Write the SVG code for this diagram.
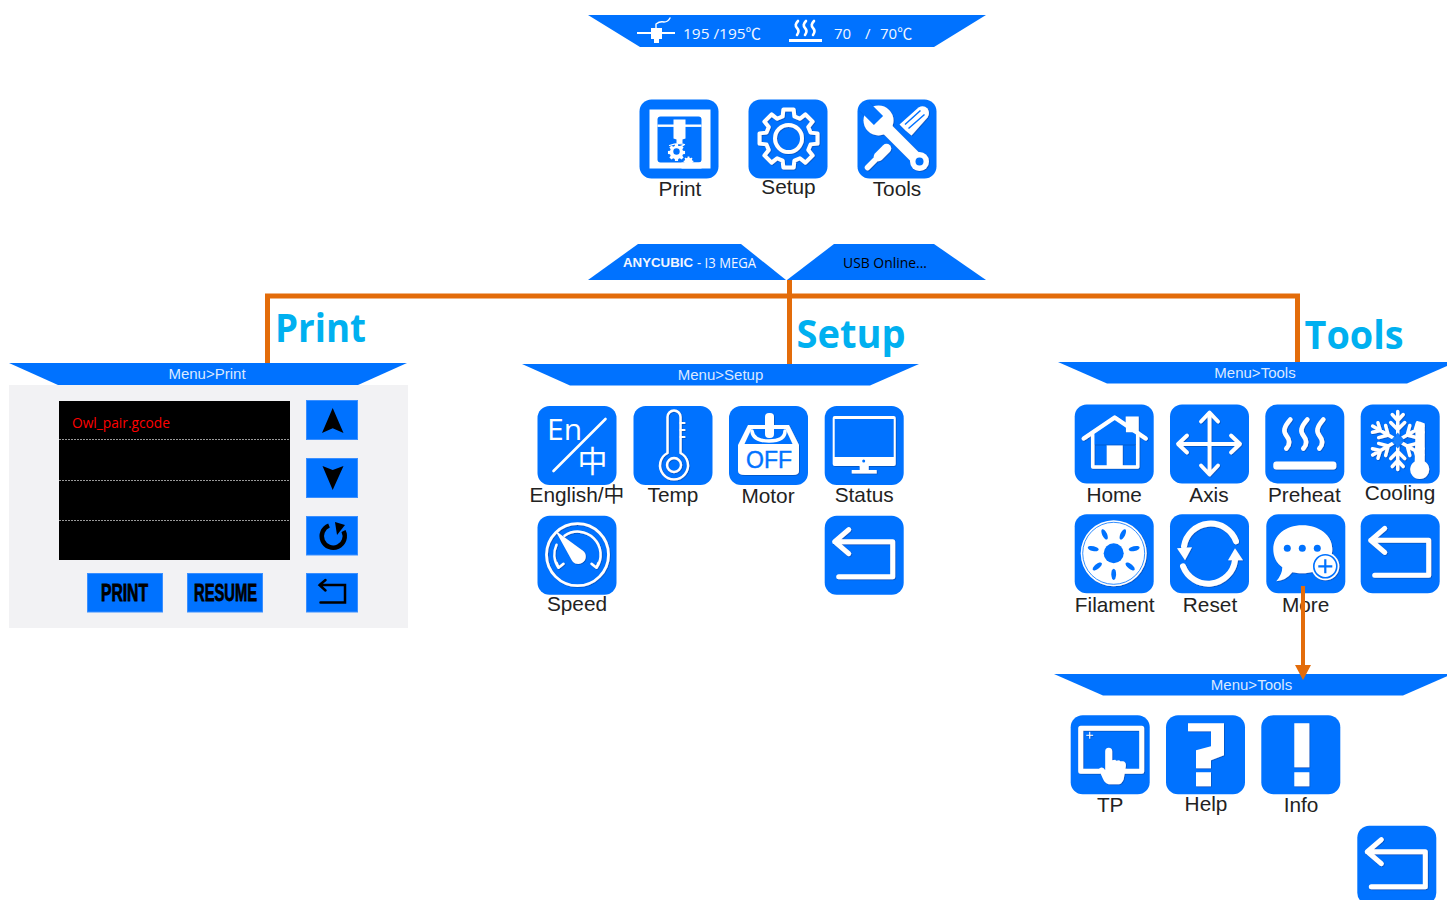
<svg xmlns="http://www.w3.org/2000/svg" width="1447" height="900" viewBox="0 0 1447 900">
<style>
.tile{fill:#0072ff}
.lb{font:20.800px "Liberation Sans",Arial,sans-serif;fill:#222;text-anchor:middle}
.mn{font:15px "Liberation Sans",Arial,sans-serif;fill:#dbe9ff;text-anchor:middle}
.hd{font:700 39px "Open Sans",sans-serif;fill:#00b0f0}
.ban{fill:#0072ff}
.w{fill:#fff}
.s{fill:none;stroke:#fff;stroke-linecap:round;stroke-linejoin:round}
.b{fill:#0072ff}
.bl{fill:none;stroke:#0072ff}
.btn{fill:#0072ff;stroke:#3b8fff;stroke-width:1}
.k{fill:none;stroke:#000}
.top{font:15px "Open Sans","Noto Sans CJK SC",sans-serif;fill:#f2f6ff}
.conn{fill:none;stroke:#e36c0a;stroke-width:5}
</style>
<defs>
<filter id="sh" x="-10%" y="-10%" width="120%" height="120%"><feDropShadow dx="0.7" dy="0.7" stdDeviation="0.5" flood-color="#0047a8" flood-opacity="0.8"/></filter>
<rect id="tile" class="tile" width="79" height="79" rx="12"/>
<path id="gear" d="M-5.400 -30.500L5.400 -30.500L6.200 -23.200L12 -20.800L17.800 -25.400L25.400 -17.800L20.800 -12L23.200 -6.200L30.500 -5.400L30.500 5.400L23.200 6.200L20.800 12L25.400 17.800L17.800 25.400L12 20.800L6.200 23.200L5.400 30.500L-5.400 30.500L-6.200 23.200L-12 20.800L-17.800 25.400L-25.400 17.800L-20.800 12L-23.200 6.200L-30.500 5.400L-30.500 -5.400L-23.200 -6.200L-20.800 -12L-25.400 -17.800L-17.800 -25.400L-12 -20.800L-6.200 -23.200Z"/>
<g id="back"><use href="#tile"/><path class="s" filter="url(#sh)" stroke-width="5" stroke-linejoin="miter" d="M24 14L10 26L24 38M10 26H68V61H14"/></g>
<g id="arm"><path d="M0 0V-29M0 -11L-7 -18M0 -11L7 -18M0 -20L-5.500 -26M0 -20L5.500 -26" fill="none" stroke="#fff" stroke-width="3.400" stroke-linecap="round"/></g>
<ellipse id="petal" class="b" cx="0" cy="-21" rx="2.400" ry="5.600"/>
</defs>

<g id="banner-status">
<polygon class="ban" points="588,15 986,15 934,47 640,47"/>
<path class="w" d="M651 28h11v11h-3v4h-5v-4h-3z"/>
<path d="M637 33H675" stroke="#fff" stroke-width="2"/>
<path d="M656 28V24Q660 21 664 22Q668 22 670 18" class="s" stroke-width="1.400"/>
<text class="top" x="683" y="39" textLength="78" lengthAdjust="spacingAndGlyphs">195 /195℃</text>
<path class="s" stroke-width="2.600" d="M798 21Q794 25 797 28T797 35M806 21Q802 25 805 28T805 35M814 21Q810 25 813 28T813 35"/>
<rect class="w" x="789" y="39" width="33" height="3"/>
<text class="top" x="834" y="39">70</text>
<text class="top" x="865" y="39">/</text>
<text class="top" x="880" y="39">70℃</text>
</g>

<g id="node-print" transform="translate(639.500 99.500)">
<use href="#tile"/>
<rect class="w" x="10" y="10" width="61" height="59"/>
<rect class="b" x="18" y="17" width="44" height="46" rx="3"/>
<rect class="w" x="18" y="25" width="44" height="2.400"/>
<path class="w" d="M34 20h12v19l-3 1v4h-6v-4l-3-1z"/>
<path class="s" stroke-width="1.200" d="M30 46Q38 43 45 45Q42 48 36 47"/>
<use href="#gear" class="w" transform="translate(37 53) scale(.28)"/>
<circle class="b" cx="37" cy="52" r="3.200"/>
<rect class="w" x="42" y="63" width="20" height="6"/>
<use href="#gear" class="w" transform="translate(49 62) scale(.16)"/>
<text class="lb" x="40.500" y="96.800">Print</text>
</g>
<g id="node-setup" transform="translate(748.500 99.500)">
<use href="#tile"/>
<g filter="url(#sh)"><use href="#gear" transform="translate(40 39) scale(.95)" fill="none" stroke="#fff" stroke-width="4.200" stroke-linejoin="round"/>
<circle cx="40" cy="39" r="13.500" fill="none" stroke="#fff" stroke-width="4"/></g>
<text class="lb" x="40" y="94.800">Setup</text>
</g>
<g id="node-tools" transform="translate(857.500 99.500)">
<use href="#tile"/>
<g filter="url(#sh)">
<path class="w" d="M48 31L42 25L61 8Q66 5 70 9Q73 14 70 18L54 36Z"/>
<path class="bl" stroke-width="1.500" d="M47.500 25L63 11M51 29L67 15"/>
<path class="s" stroke-width="5.500" d="M10 68L20 58"/>
<path class="s" stroke-width="9.500" d="M21 57L29 49"/>
<path class="s" stroke-width="12" d="M20 20L62 62"/>
<circle class="w" cx="21" cy="21" r="15"/>
<path class="bl" stroke-width="13" d="M21 21L6 6"/>
<circle class="w" cx="62" cy="62" r="9.500"/>
<circle class="b" cx="62" cy="62" r="4"/>
</g>
<text class="lb" x="39.500" y="96.800">Tools</text>
</g>

<g id="banner-brand">
<polygon class="ban" points="588,280 638,244 741,244 786,280"/>
<text x="623" y="267" font-family="'Liberation Sans',sans-serif" font-weight="700" font-size="13.500" fill="#f2f6ff" textLength="70" lengthAdjust="spacingAndGlyphs">ANYCUBIC</text>
<text x="697" y="268" font-family="'Open Sans',sans-serif" font-size="14" fill="#f2f6ff" textLength="59" lengthAdjust="spacingAndGlyphs">- I3 MEGA</text>
</g>
<g id="banner-usb">
<polygon class="ban" points="787,280 834,244 934,244 986,280"/>
<text x="843" y="268" font-family="'Open Sans',sans-serif" font-size="14" fill="#000" textLength="84" lengthAdjust="spacingAndGlyphs">USB Online...</text>
</g>

<g id="connectors">
<path class="conn" d="M267.500 363V296H1297.500V362"/>
<path class="conn" d="M789.500 280V364"/>
<text class="hd" x="275" y="342" textLength="91" lengthAdjust="spacingAndGlyphs">Print</text>
<text class="hd" x="796.500" y="348" textLength="109" lengthAdjust="spacingAndGlyphs">Setup</text>
<text class="hd" x="1304.500" y="349" textLength="99" lengthAdjust="spacingAndGlyphs">Tools</text>
</g>

<g id="screen-print">
<rect x="9" y="385" width="399" height="243" fill="#f2f2f4"/>
<polygon class="ban" points="9,363 407,363 358,385 58,385"/>
<text class="mn" x="207" y="379">Menu&gt;Print</text>
<rect x="59" y="401" width="231" height="159" fill="#000"/>
<path d="M59 439.500H290M59 480.500H290M59 520.500H290" stroke="#999" stroke-width="1" stroke-dasharray="2 1"/>
<text x="72" y="428" font-family="'Open Sans',sans-serif" font-size="14" fill="#f00" textLength="98" lengthAdjust="spacingAndGlyphs">Owl_pair.gcode</text>
<rect class="btn" x="306.500" y="400.500" width="51" height="39"/>
<polygon points="332.700,408 343.500,433 332.700,428.300 322,433"/>
<rect class="btn" x="306.500" y="458.500" width="51" height="39"/>
<polygon points="322.500,466 332.700,470 343.500,466 332.700,490"/>
<rect class="btn" x="306.500" y="516.500" width="51" height="38.500"/>
<path class="k" stroke-width="4.500" d="M329 525.500A11.500 11.500 0 1 0 343.500 531"/>
<polygon points="335,522 345,525 337,535"/>
<rect class="btn" x="306.500" y="573.500" width="51" height="38.500"/>
<path class="k" stroke-width="2.500" stroke-linecap="round" d="M325.500 580L319.500 585L325.500 590.500M319.500 585H345V602.500H320.500"/>
<rect class="btn" x="87.500" y="573.500" width="75" height="38.500"/>
<text x="101" y="601" font-family="'Liberation Sans',sans-serif" font-weight="700" font-size="23" stroke="#000" stroke-width=".8" textLength="47" lengthAdjust="spacingAndGlyphs">PRINT</text>
<rect class="btn" x="187.500" y="573.500" width="75" height="38.500"/>
<text x="194" y="601" font-family="'Liberation Sans',sans-serif" font-weight="700" font-size="23" stroke="#000" stroke-width=".8" textLength="63" lengthAdjust="spacingAndGlyphs">RESUME</text>
</g>

<g id="menu-setup">
<polygon class="ban" points="522,364 919,364 870,385.500 570,385.500"/>
<text class="mn" x="720.500" y="379.500">Menu&gt;Setup</text>
</g>
<g id="node-english" transform="translate(537.500 406)">
<use href="#tile"/>
<text x="9.500" y="33.500" font-family="'Open Sans',sans-serif" font-size="30" fill="#fff">En</text>
<path class="s" stroke-width="2.600" d="M68 13L16 65"/>
<text x="40" y="66" font-family="'Noto Sans CJK SC',sans-serif" font-size="30" fill="#fff">中</text>
<text x="39.500" y="95.700" font-family="'Liberation Sans','Noto Sans CJK SC',sans-serif" font-size="20.800" fill="#222" text-anchor="middle">English/中</text>
</g>
<g id="node-temp" transform="translate(633.500 406)">
<use href="#tile"/>
<g filter="url(#sh)"><path class="s" stroke-width="2.400" d="M34 47V11A6.500 6.500 0 0 1 47 11V47A14 14 0 1 1 34 47Z"/>
<circle class="s" cx="40.500" cy="59" r="7" stroke-width="2.400"/>
<path class="s" stroke-width="2" d="M47 17H51M47 24H51M47 31H51"/></g>
<text class="lb" x="39.500" y="95.700">Temp</text>
</g>
<g id="node-motor" transform="translate(729 406)">
<use href="#tile"/>
<g filter="url(#sh)">
<path class="w" d="M19 19H60L70 39V65Q70 69 64 69H16Q9 69 9 65V39Z"/>
<path class="b" d="M22.500 23H56.500L63.500 38H15.500Z"/>
<path class="s" stroke-width="3.500" d="M23 25Q24 35 40 35Q56 35 56 25"/>
<rect class="w" x="36" y="7" width="9" height="25" rx="4"/>
</g>
<text x="40" y="62" font-family="'Liberation Sans',sans-serif" font-size="23" stroke="#0072ff" stroke-width=".4" fill="#0072ff" text-anchor="middle">OFF</text>
<text class="lb" x="39" y="97">Motor</text>
</g>
<g id="node-status" transform="translate(824.700 406)">
<use href="#tile"/>
<g filter="url(#sh)">
<rect class="w" x="8" y="10" width="63" height="50" rx="2"/>
<rect class="b" x="10" y="13" width="59" height="38"/>
<circle class="b" cx="39" cy="55" r="1.500"/>
<rect class="w" x="35" y="60" width="9" height="4"/>
<rect class="w" x="27" y="64" width="25" height="3.500"/>
</g>
<text class="lb" x="39.500" y="95.700">Status</text>
</g>
<g id="node-speed" transform="translate(537.500 515.700)">
<use href="#tile"/>
<g filter="url(#sh)">
<circle class="s" cx="40" cy="39" r="31" stroke-width="2.800"/>
<path class="s" stroke-width="2.500" d="M21 52A23 23 0 0 1 19 29M27 20A23 23 0 0 1 59 52M21 52L26 48M21 52L19 47M59 52L54 48M59 52L61 47"/>
<path class="w" d="M18 15L44 34A7.500 7.500 0 1 1 34 44Z"/>
</g>
<text class="lb" x="39.500" y="95">Speed</text>
</g>
<g id="node-setup-back" transform="translate(824.700 515.700)"><use href="#back"/></g>

<g id="menu-tools">
<polygon class="ban" points="1058,362 1456,362 1407,383.500 1107,383.500"/>
<text class="mn" x="1255" y="378">Menu&gt;Tools</text>
</g>
<g id="node-home" transform="translate(1074.700 404.500)">
<use href="#tile"/>
<g filter="url(#sh)">
<rect class="w" x="51" y="12" width="13" height="16"/>
<path class="b" d="M40 14L51 22V28H64V40H17V30Z"/>
<path class="s" stroke-width="4.400" d="M9 34L40 13L71 34"/>
<path class="s" stroke-width="3.500" stroke-linecap="butt" stroke-linejoin="miter" d="M18 30V62.500H63V28"/>
<rect class="w" x="32" y="41" width="16" height="22"/>
</g>
<text class="lb" x="39.500" y="97.200">Home</text>
</g>
<g id="node-axis" transform="translate(1170 404.500)">
<use href="#tile"/>
<path class="s" filter="url(#sh)" stroke-width="3.800" d="M39.500 9V69M9 39.500H69M31 17L39.500 8L48 17M31 61L39.500 70L48 61M17 31L8 39.500L17 48M61 31L70 39.500L61 48"/>
<text class="lb" x="39" y="97.200">Axis</text>
</g>
<g id="node-preheat" transform="translate(1265.300 404.500)">
<use href="#tile"/>
<g filter="url(#sh)">
<path class="s" stroke-width="4.600" d="M25 15C18 23 18 27 21 31C25 36 25 40 21 44M42 15C35 23 35 27 38 31C42 36 42 40 38 44M58 15C51 23 51 27 54 31C58 36 58 40 54 44"/>
<rect class="w" x="8" y="57" width="63" height="8" rx="3"/>
</g>
<text class="lb" x="39" y="97.200">Preheat</text>
</g>
<g id="node-cooling" transform="translate(1360.700 404.500)">
<use href="#tile"/>
<g filter="url(#sh)">
<use href="#arm" transform="translate(37 36)"/>
<use href="#arm" transform="translate(37 36) rotate(60)"/>
<use href="#arm" transform="translate(37 36) rotate(120)"/>
<use href="#arm" transform="translate(37 36) rotate(180)"/>
<use href="#arm" transform="translate(37 36) rotate(240)"/>
<use href="#arm" transform="translate(37 36) rotate(300)"/>
<path class="b" d="M37 28L44 36L37 44L30 36Z" opacity=".9"/>
<path class="w" d="M55 19L59 17L64 19V57A9.500 9.500 0 1 1 54 57Z"/>
</g>
<text class="lb" x="39.300" y="95.500">Cooling</text>
</g>
<g id="node-filament" transform="translate(1074.700 514.300)">
<use href="#tile"/>
<g filter="url(#sh)"><circle class="w" cx="39" cy="39" r="33"/></g>
<circle class="bl" cx="39" cy="39" r="31" stroke-width=".8"/>
<circle class="b" cx="39" cy="39" r="10"/>
<use href="#petal" transform="translate(39 39) rotate(180)"/>
<use href="#petal" transform="translate(39 39) rotate(128.600)"/>
<use href="#petal" transform="translate(39 39) rotate(77.100)"/>
<use href="#petal" transform="translate(39 39) rotate(25.700)"/>
<use href="#petal" transform="translate(39 39) rotate(-25.700)"/>
<use href="#petal" transform="translate(39 39) rotate(-77.100)"/>
<use href="#petal" transform="translate(39 39) rotate(-128.600)"/>
<text class="lb" x="40" y="97.400">Filament</text>
</g>
<g id="node-reset" transform="translate(1170 514.300)">
<use href="#tile"/>
<g filter="url(#sh)">
<path class="s" stroke-width="6" stroke-linecap="butt" d="M14 32A27 27 0 0 1 66 27"/>
<path class="s" stroke-width="6" stroke-linecap="butt" d="M65 46A27 27 0 0 1 13 52"/>
<polygon class="w" points="7,34 22,33 15,46"/>
<polygon class="w" points="58,46 73,46 65,34"/>
</g>
<text class="lb" x="40" y="97.400">Reset</text>
</g>
<g id="node-more" transform="translate(1266.300 514.300)">
<use href="#tile"/>
<g filter="url(#sh)">
<path class="w" d="M36 11C53 11 66 21 66 35C66 49 53 59 36 59C32 59 29 58.500 26 58Q20 66 10 67Q16 60 16 53C10 49 7 42 7 35C7 21 19 11 36 11Z"/>
<circle cx="59" cy="52" r="14" fill="#fff"/>
</g>
<circle class="b" cx="21" cy="34" r="3.500"/><circle class="b" cx="36" cy="34" r="3.500"/><circle class="b" cx="51" cy="34" r="3.500"/>
<circle class="bl" cx="59" cy="52" r="11.500" stroke-width="1.600"/>
<path class="bl" stroke-width="2.200" d="M52 52H66M59 45V59"/>
<text class="lb" x="39.300" y="97.400">More</text>
</g>
<g id="node-tools-back" transform="translate(1360.700 514.300)"><use href="#back"/></g>

<g id="menu-tools-2">
<polygon class="ban" points="1054,674 1452,674 1403,695.500 1103,695.500"/>
<text class="mn" x="1251.500" y="690">Menu&gt;Tools</text>
</g>
<g id="node-tp" transform="translate(1070.700 715.300)">
<use href="#tile"/>
<g filter="url(#sh)">
<path class="s" stroke-width="5" d="M29 56H10V13H71V56H52"/>
<path class="s" stroke-width="1" d="M19 17V23M16 20H22"/>
<path class="w" d="M34.500 36a3.500 3.500 0 0 1 7 0V45l3-.5 1 1 3-.5 1 1 3 0Q56 47 55 52L53 64Q51 69 48 69H38Q34 68 32 63L28 54Q30 51 33 53L34.500 55Z"/>
</g>
<text class="lb" x="39.500" y="96.700">TP</text>
</g>
<g id="node-help" transform="translate(1166 715.300)">
<use href="#tile"/>
<g filter="url(#sh)"><path class="w" d="M22 8H58V40L45 45V53H30V35L45 31V16H22ZM30 57H45V71H30Z"/></g>
<text class="lb" x="40" y="95.400">Help</text>
</g>
<g id="node-info" transform="translate(1261.300 715.300)">
<use href="#tile"/>
<g filter="url(#sh)"><path class="w" d="M33 8H48V52H33ZM33 57H48V71H33Z"/></g>
<text class="lb" x="39.700" y="96.700">Info</text>
</g>
<g id="node-more-back" transform="translate(1357.300 825.700)"><use href="#back"/></g>

<g id="connector-more">
<path d="M1303 586V665" fill="none" stroke="#e36c0a" stroke-width="4"/>
<polygon points="1295,665 1311,665 1303,680" fill="#e36c0a"/>
</g>
</svg>
